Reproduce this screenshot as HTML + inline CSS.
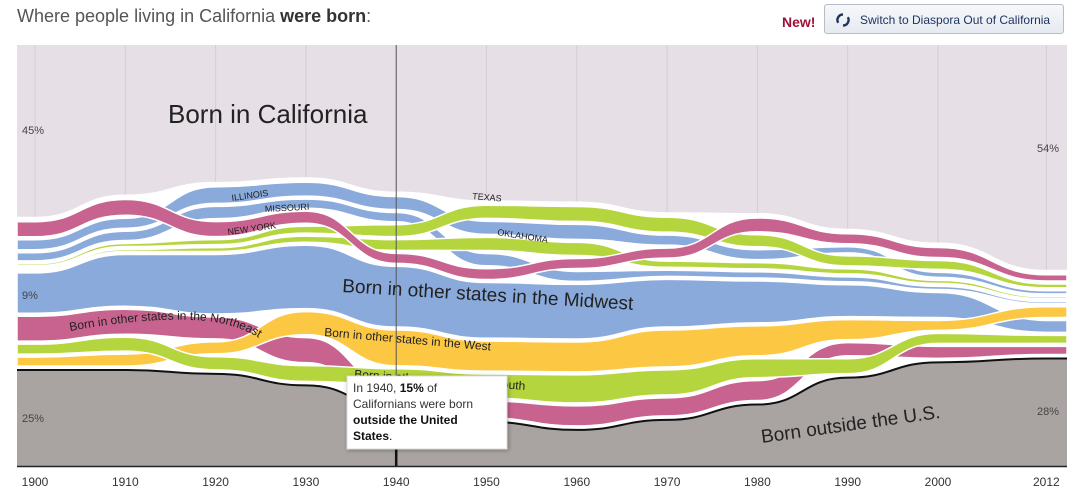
<!DOCTYPE html>
<html><head><meta charset="utf-8">
<style>
body{margin:0;background:#fff;width:1077px;height:495px;overflow:hidden;font-family:"Liberation Sans",Arial,sans-serif;}
#title{position:absolute;left:17px;top:6px;font-size:18px;color:#555;}
#title b{color:#333;}
#newtag{position:absolute;left:782px;top:14px;font-size:14px;font-weight:bold;color:#9b1238;}
#switch{position:absolute;left:824px;top:4px;width:240px;height:30px;border:1px solid #b8bcc4;border-radius:3px;background:linear-gradient(#f6f8fb,#e6eaf1);font-size:12px;color:#1f3560;box-sizing:border-box;}
#switch span{position:absolute;left:35px;top:8px;}
#switch svg{position:absolute;left:11px;top:8px;}
svg text{font-family:"Liberation Sans",Arial,sans-serif;}
</style></head><body>
<div id="title">Where people living in California <b>were born</b>:</div>
<div id="newtag">New!</div>
<div id="switch">
<svg width="14" height="14" viewBox="0 0 14 14"><path d="M7 1.5 A5.5 5.5 0 0 0 2.2 9.8" fill="none" stroke="#1f3560" stroke-width="2.4"/><path d="M7 12.5 A5.5 5.5 0 0 0 11.8 4.2" fill="none" stroke="#1f3560" stroke-width="2.4"/></svg>
<span>Switch to Diaspora Out of California</span></div>
<svg id="chart" width="1077" height="495" style="position:absolute;left:0;top:0">
<defs><clipPath id="plotclip"><rect x="17" y="45" width="1050" height="421"/></clipPath></defs>
<g id="plot" clip-path="url(#plotclip)"></g>
<g id="axis"></g>
<g id="labels"></g>
</svg>
<script>
const years = [1900,1910,1920,1930,1940,1950,1960,1970,1980,1990,2000,2012];
const caValues = [45,40,37,37,38,41,43,47,47,49,52,54];
const fbValues = [25,25,24,21,15,11.5,9.4,12,16,23,27,28];
const nyValues = [3.9,4.1,3.9,3.1,2.6,2.8,2.6,2.6,3.6,2.6,2.6,1.6];
const ilValues = [2.6,2.6,4.3,3.6,3.4,3.4,3.9,2.6,2.6,1.6,1.3,0.8];
const moValues = [2.1,2.4,3.2,2.4,2.4,3.2,2.6,1.6,1.6,1.3,0.8,0.5];
const txValues = [0.5,0.8,1.3,1.8,3.1,3.4,3.9,3.9,3.1,2.6,2.3,1.0];
const okValues = [0.3,0.5,1.0,1.6,2.8,3.4,3.4,1.6,1.6,1.3,0.8,0.5];
const mwValues = [10.5,13.5,15.5,16.5,15.8,14.5,14.2,12.4,10.9,8.3,6.5,3.1];
const westValues = [2.3,3.1,3.1,6,9.3,7.8,7.8,9.6,7.8,5.2,2.6,2.8];
const southValues = [2.6,3.6,3.4,4.1,4.1,6.2,7.3,6.5,4.9,3.9,2.6,2.1];
const neValues = [6.5,6.5,5.7,6.5,4.4,4.4,5.2,4.7,5.2,3.4,3.1,2.1];
// top-to-bottom order of ribbons for each census year
const orders = [
 ["NY","IL","MO","TX","OK","MW","NE","S","W"],
 ["NY","IL","MO","TX","OK","MW","NE","S","W"],
 ["IL","MO","NY","TX","OK","MW","NE","W","S"],
 ["IL","MO","NY","TX","OK","MW","W","NE","S"],
 ["IL","MO","TX","OK","NY","MW","W","S","NE"],
 ["TX","IL","OK","MO","NY","MW","W","S","NE"],
 ["TX","IL","OK","NY","MO","MW","W","S","NE"],
 ["TX","IL","NY","OK","MO","MW","W","S","NE"],
 ["NY","TX","IL","OK","MO","MW","W","S","NE"],
 ["NY","IL","TX","OK","MO","MW","W","NE","S"],
 ["NY","TX","IL","OK","MO","MW","W","S","NE"],
 ["NY","TX","IL","OK","MO","W","MW","S","NE"]
];
const tickLabels = ["1900","1910","1920","1930","1940","1950","1960","1970","1980","1990","2000","2012"];

const series = {NY:nyValues,IL:ilValues,MO:moValues,TX:txValues,OK:okValues,MW:mwValues,W:westValues,S:southValues,NE:neValues};
const colors = {NY:"#c7638e",IL:"#89aadb",MO:"#89aadb",TX:"#b5d53e",OK:"#b5d53e",MW:"#89aadb",W:"#fcc742",S:"#b5d53e",NE:"#c7638e"};
const names = {NY:"new-york",IL:"illinois",MO:"missouri",TX:"texas",OK:"oklahoma",MW:"midwest-other",W:"west-other",S:"south-other",NE:"northeast-other"};
const K = 3.84, GAP = 3, BASE = 466, X0 = 17, X1 = 1067;
function xScale(yr){return 35 + (yr-1900)*9.03;}
function hScale(v){return v*K;}
const NS="http://www.w3.org/2000/svg";
const plot=document.getElementById('plot'), axis=document.getElementById('axis');

const tops={}, bots={}; const fbTop=[]; const stackTop=[]; const caTop=[];
for(const k in series){tops[k]=[];bots[k]=[];}
years.forEach((yr,j)=>{
  let y = BASE - hScale(fbValues[j]); fbTop.push(y); y -= GAP+1;
  const ord = orders[j].slice().reverse();
  ord.forEach(k=>{bots[k][j]=y; const t=y-hScale(series[k][j]); tops[k][j]=t; y=t-GAP;});
  stackTop.push(y+GAP); caTop.push(y - hScale(caValues[j]));
});
function curve(arr){
  const xs=[X0].concat(years.map(xScale)).concat([X1]);
  const ys=[arr[0]].concat(arr).concat([arr[arr.length-1]]);
  let d="";
  for(let i=0;i<xs.length;i++){
    if(i===0){d+="M"+xs[i]+","+ys[i];continue;}
    const xm=(xs[i-1]+xs[i])/2;
    d+=" C"+xm+","+ys[i-1]+" "+xm+","+ys[i]+" "+xs[i]+","+ys[i];
  }
  return d;
}
function reverseCurve(arr){
  const xs=[X0].concat(years.map(xScale)).concat([X1]).reverse();
  const ys=[arr[0]].concat(arr).concat([arr[arr.length-1]]).reverse();
  let d=" L"+xs[0]+","+ys[0];
  for(let i=1;i<xs.length;i++){const xm=(xs[i-1]+xs[i])/2;d+=" C"+xm+","+ys[i-1]+" "+xm+","+ys[i]+" "+xs[i]+","+ys[i];}
  return d+" Z";
}
function band(topArr,botArr){return curve(topArr)+reverseCurve(botArr);}
function mk(tag,attrs){const e=document.createElementNS(NS,tag);for(const a in attrs)e.setAttribute(a,attrs[a]);return e;}

const bg=mk('rect',{x:X0,y:45,width:X1-X0,height:421,fill:"#e7dfe6"});


plot.appendChild(bg);
years.forEach((yr,j)=>{
  const g=mk('line',{x1:xScale(yr),x2:xScale(yr),y1:45,y2:466,stroke:"#d4cdd3","stroke-width":1});
  
  
  plot.appendChild(g);
});
const halo=mk('path',{d:band(stackTop.map(v=>v-5),years.map(()=>BASE)),fill:"#fff"});


plot.appendChild(halo);
["MW","NE","W","S","MO","OK","IL","TX","NY"].forEach(k=>{
  const p=mk('path',{d:band(tops[k],bots[k]),fill:colors[k],stroke:"#fff","stroke-width":1.5});
  
  
  plot.appendChild(p);
});
const fb=mk('path',{d:band(fbTop,years.map(()=>BASE)),fill:"#a9a4a2"});


plot.appendChild(fb);
const fbl=mk('path',{d:curve(fbTop),fill:"none",stroke:"#111","stroke-width":2});


plot.appendChild(fbl);
const hl=mk('line',{x1:xScale(1940),x2:xScale(1940),y1:45,y2:466,stroke:"#555","stroke-width":1});


plot.appendChild(hl);
const hl2=mk('line',{x1:xScale(1940),x2:xScale(1940),y1:440,y2:470,stroke:"#111","stroke-width":2.5});


plot.appendChild(hl2);
const ax=mk('line',{x1:X0,x2:X1,y1:466.5,y2:466.5,stroke:"#222","stroke-width":1.5});


axis.appendChild(ax);
years.forEach((yr,j)=>{
  const t=mk('text',{x:xScale(yr),y:486,"text-anchor":"middle","font-size":12,fill:"#333"});
  t.textContent=tickLabels[j];
  
  
  axis.appendChild(t);
});
</script>
<svg width="1077" height="495" style="position:absolute;left:0;top:0">
<defs><path id="nepath" d="M70,331 C140,318 200,316 232,326 S262,344 282,352"/></defs>
<text x="168" y="123" font-size="26" fill="#222">Born in California</text>
<text x="342" y="292" font-size="19" fill="#222" transform="rotate(3.5 342 292)">Born in other states in the Midwest</text>
<text font-size="12" fill="#222"><textPath href="#nepath">Born in other states in the Northeast</textPath></text>
<text x="324" y="336" font-size="12" fill="#222" transform="rotate(5 324 336)">Born in other states in the West</text>
<text x="354" y="378" font-size="12" fill="#222" transform="rotate(4 354 378)">Born in other states in the South</text>
<text x="762" y="443" font-size="19" fill="#222" transform="rotate(-8 762 443)">Born outside the U.S.</text>
<text x="232" y="201" font-size="9" fill="#222" transform="rotate(-8 232 201)">ILLINOIS</text>
<text x="265" y="212" font-size="9" fill="#222" transform="rotate(-3 265 212)">MISSOURI</text>
<text x="228" y="235" font-size="9" fill="#222" transform="rotate(-8 228 235)">NEW YORK</text>
<text x="472" y="199" font-size="9" fill="#222" transform="rotate(5 472 199)">TEXAS</text>
<text x="497" y="235" font-size="9" fill="#222" transform="rotate(9 497 235)">OKLAHOMA</text>
<text x="22" y="134" font-size="11" fill="#444">45%</text>
<text x="22" y="299" font-size="11" fill="#444">9%</text>
<text x="22" y="422" font-size="11" fill="#444">25%</text>
<text x="1037" y="152" font-size="11" fill="#444">54%</text>
<text x="1037" y="415" font-size="11" fill="#444">28%</text>
<g>
<rect x="347" y="376" width="160" height="73" fill="#fff" stroke="#ddd" style="filter:drop-shadow(1px 1px 2px rgba(0,0,0,0.3))"/>
<text x="353" y="392" font-size="12" fill="#333">In 1940, <tspan font-weight="bold" fill="#111">15%</tspan> of</text>
<text x="353" y="408" font-size="12" fill="#333">Californians were born</text>
<text x="353" y="424" font-size="12" font-weight="bold" fill="#111">outside the United</text>
<text x="353" y="440" font-size="12" fill="#111"><tspan font-weight="bold">States</tspan>.</text>
</g>
</svg>
</body></html>
